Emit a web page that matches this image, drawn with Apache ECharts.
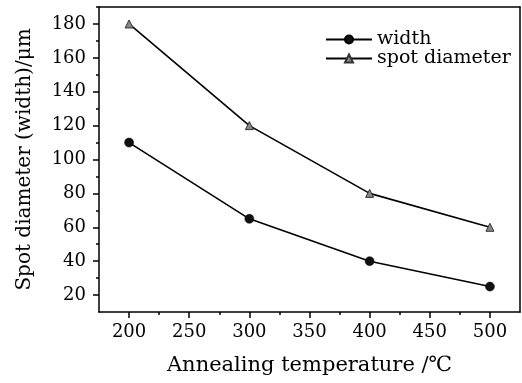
<!DOCTYPE html>
<html>
<head>
<meta charset="utf-8">
<script src="https://cdn.jsdelivr.net/npm/echarts@6/dist/echarts.min.js"></script>
<style>
html,body{margin:0;padding:0;background:#fff;}
#chart{width:522px;height:383px;}
</style>
</head>
<body>
<div id="chart"></div>
<script>
var temperatures = [200, 300, 400, 500];
var widthValues = [110, 65, 40, 25];
var spotValues = [180, 120, 80, 60];
var xTickLabels = [200, 250, 300, 350, 400, 450, 500];
var xMinorTicks = [225, 275, 325, 375, 425, 475];
var yTickLabels = [20, 40, 60, 80, 100, 120, 140, 160, 180];
var yMinorTicks = [30, 50, 70, 90, 110, 130, 150, 170, 190];

var FONT = 'DejaVu Serif';
function pairs(xs, ys) { return xs.map(function (x, i) { return [x, ys[i]]; }); }

var chart = echarts.init(document.getElementById('chart'), null, {renderer: 'canvas'});
var lineAxis = {show: true, lineStyle: {color: '#000', width: 1.5}};
var hidden = {show: false};
chart.setOption({
  animation: false,
  backgroundColor: '#fff',
  grid: {left: 99, right: 2, top: 7, bottom: 71, containLabel: false},
  legend: {
    left: 320, top: 25, orient: 'vertical', itemWidth: 46, itemHeight: 10, itemGap: 0,
    textStyle: {fontFamily: FONT, fontSize: 19, color: '#000'},
    data: ['width', 'spot diameter']
  },
  xAxis: [
    {
      type: 'value', min: 175, max: 525, interval: 25, position: 'bottom',
      name: 'Annealing temperature /℃', nameLocation: 'middle', nameGap: 43,
      nameTextStyle: {fontFamily: FONT, fontSize: 21, color: '#000'},
      axisLine: lineAxis,
      axisTick: {show: true, inside: false, length: 6, customValues: xTickLabels, lineStyle: {color: '#000', width: 1.5}},
      axisLabel: {show: true, customValues: xTickLabels, margin: 11, fontFamily: FONT, fontSize: 18, color: '#000'},
      splitLine: hidden
    },
    {
      type: 'value', min: 175, max: 525, interval: 25, position: 'bottom', gridIndex: 0,
      axisLine: hidden,
      axisTick: {show: true, inside: false, length: 3, customValues: xMinorTicks, lineStyle: {color: '#000', width: 1.5}},
      axisLabel: hidden, splitLine: hidden
    },
    {
      type: 'value', min: 175, max: 525, interval: 25, position: 'top',
      axisLine: lineAxis, axisTick: hidden, axisLabel: hidden, splitLine: hidden
    }
  ],
  yAxis: [
    {
      type: 'value', min: 10, max: 190, interval: 10, position: 'left',
      name: 'Spot diameter (width)/μm', nameLocation: 'middle', nameGap: 64,
      nameTextStyle: {fontFamily: FONT, fontSize: 20, color: '#000'},
      axisLine: lineAxis,
      axisTick: {show: true, inside: false, length: 6, customValues: yTickLabels, lineStyle: {color: '#000', width: 1.5}},
      axisLabel: {show: true, customValues: yTickLabels, margin: 13, fontFamily: FONT, fontSize: 18, color: '#000'},
      splitLine: hidden
    },
    {
      type: 'value', min: 10, max: 190, interval: 10, position: 'left',
      axisLine: hidden,
      axisTick: {show: true, inside: false, length: 3, customValues: yMinorTicks, lineStyle: {color: '#000', width: 1.5}},
      axisLabel: hidden, splitLine: hidden
    },
    {
      type: 'value', min: 10, max: 190, interval: 10, position: 'right',
      axisLine: lineAxis, axisTick: hidden, axisLabel: hidden, splitLine: hidden
    }
  ],
  series: [
    {
      name: 'width', type: 'line', xAxisIndex: 0, yAxisIndex: 0,
      data: pairs(temperatures, widthValues),
      symbol: 'circle', symbolSize: 9,
      lineStyle: {color: '#000', width: 1.6},
      itemStyle: {color: '#111', borderColor: '#000', borderWidth: 0.5}
    },
    {
      name: 'spot diameter', type: 'line', xAxisIndex: 0, yAxisIndex: 0,
      data: pairs(temperatures, spotValues),
      symbol: 'triangle', symbolSize: 8,
      lineStyle: {color: '#000', width: 1.6},
      itemStyle: {color: '#888', borderColor: '#333', borderWidth: 1}
    }
  ]
});
</script>
</body>
</html>
